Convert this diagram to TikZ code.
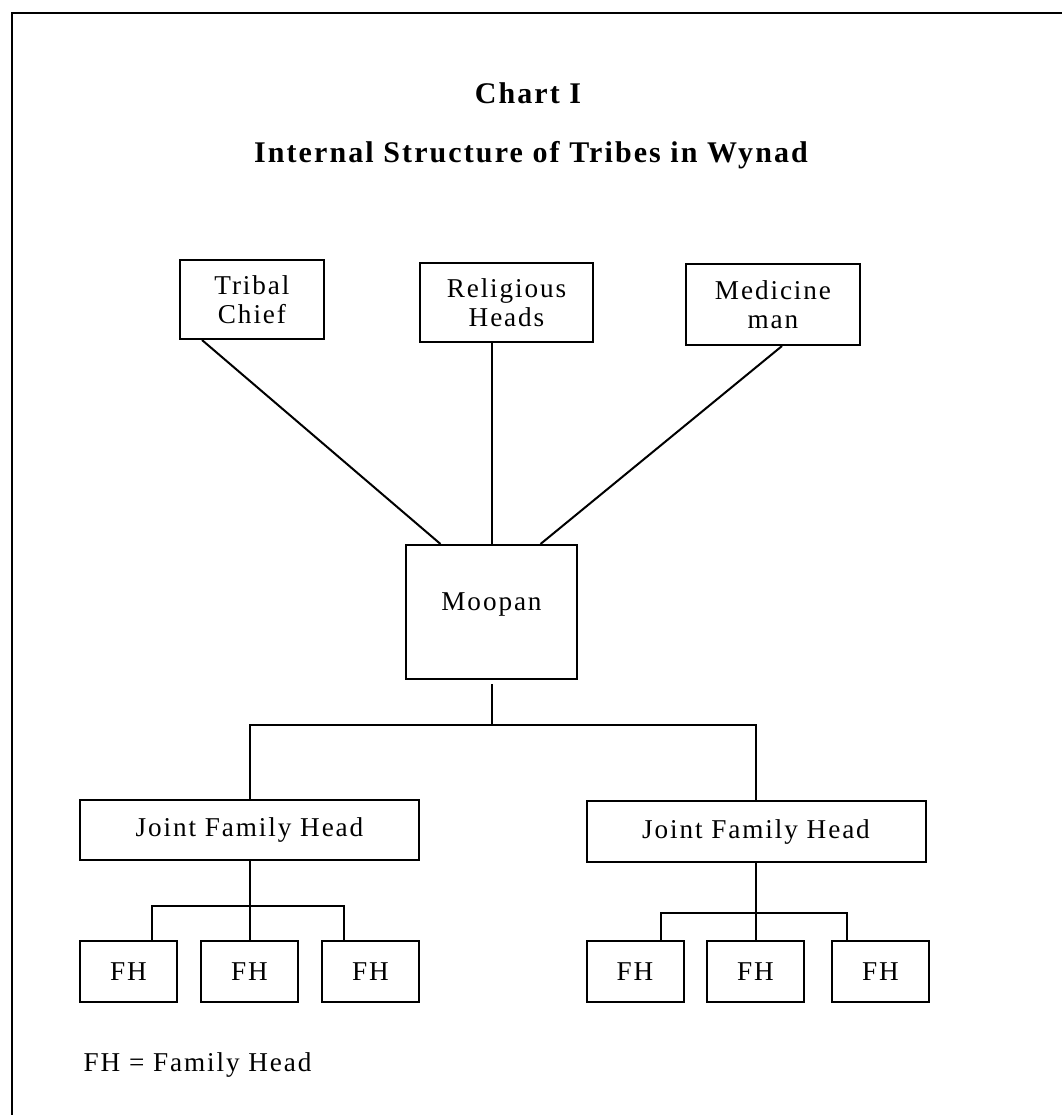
\documentclass[tikz,border=0pt]{standalone}
\usepackage{fontspec}
\setmainfont{Liberation Serif}[LetterSpace=7]
\usetikzlibrary{positioning}
\newcommand{\chartfont}{\fontsize{13.6}{14.5}\selectfont}
\newcommand{\titlefont}{\fontsize{15}{18}\selectfont\bfseries}
\tikzset{
  chartbox/.style={draw,line width=1pt,inner sep=0pt,align=center,font=\chartfont},
  boxsize/.style 2 args={minimum width=#1*0.5pt,minimum height=#2*0.5pt},
}

\begin{document}
\begin{tikzpicture}[x=0.5pt,y=-0.5pt,line width=1pt]
\useasboundingbox (0,0) rectangle (1062,1115);
% page frame (top and left edge only)
\draw (12,1115) -- (12,13) -- (1062,13);

% headings
\node[font=\titlefont] (chart) at (528,93) {Chart I};
\node[font=\titlefont] (title) at (531,155) {Internal Structure of Tribes in Wynad};

% top row
\node[chartbox,boxsize={144}{79}] (tribal) at (252,299.5) {Tribal\\Chief};
\node[chartbox,boxsize={173}{79}] (relig) at (506.5,302.5) {Religious\\Heads};
\node[chartbox,boxsize={174}{81}] (medic) at (773,304.5) {Medicine\\man};
\node[chartbox,boxsize={171}{134}] (moopan) at (491.5,612) {\raisebox{10.5pt}{Moopan}};

% joint families
\node[chartbox,boxsize={339}{60}] (jfhl) at (249.5,830) {Joint Family Head};
\node[chartbox,boxsize={339}{61}] (jfhr) at (756,831.5) {Joint Family Head};
\foreach \nm/\x in {fha/128.5,fhb/249.5,fhc/370.5,fhd/635,fhe/755.5,fhf/880.5}
  \node[chartbox,boxsize={97}{61}] (\nm) at (\x,971.5) {FH};

% links to Moopan
\draw ([xshift=11.5pt]tribal.south west) -- ([xshift=17.75pt]moopan.north west);
\draw (moopan.north |- relig.south) -- (moopan.north);
\draw ([xshift=4.5pt]medic.south) -- ([xshift=-18.75pt]moopan.north east);

% Moopan to joint families
\coordinate (split) at (491.5,725);
\draw ([yshift=-2pt]moopan.south) -- (split);
\draw (jfhl.north) |- (split) -| (jfhr.north);

% family heads
\coordinate (forkl) at (249.5,906);
\draw (jfhl.south) -- (forkl);
\draw ([xshift=11.75pt]fha.north) |- (forkl) -| ([xshift=-13.25pt]fhc.north);
\draw (forkl) -- (forkl |- fhb.north);
\coordinate (forkr) at (756,913);
\draw (jfhr.south) -- (forkr);
\draw ([xshift=13pt]fhd.north) |- (forkr) -| ([xshift=-16.75pt]fhf.north);
\draw (forkr) -- (forkr |- fhe.north);

\node[anchor=west,font=\chartfont] (note) at (76,1065) {FH = Family Head};
\end{tikzpicture}
\end{document}
